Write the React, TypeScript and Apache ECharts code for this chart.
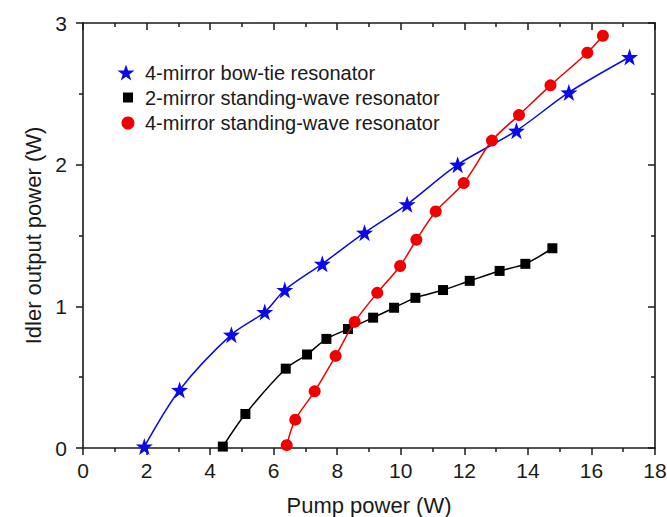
import React, { useEffect, useRef } from "react";
import * as echarts from "echarts";

const seriesNames = [
  "4-mirror bow-tie resonator",
  "2-mirror standing-wave resonator",
  "4-mirror standing-wave resonator",
];

const bowTieX = [1.93, 3.04, 4.67, 5.72, 6.35, 7.53, 8.86, 10.2, 11.79, 13.64, 15.29, 17.2];
const bowTieY = [0.01, 0.41, 0.8, 0.96, 1.115, 1.3, 1.52, 1.72, 2.0, 2.24, 2.51, 2.76];

const twoMirrorX = [4.4, 5.11, 6.38, 7.05, 7.66, 8.34, 9.13, 9.79, 10.46, 11.33, 12.17, 13.11, 13.92, 14.77];
const twoMirrorY = [0.01, 0.24, 0.56, 0.66, 0.77, 0.84, 0.92, 0.99, 1.06, 1.115, 1.18, 1.25, 1.3, 1.41];

const fourMirrorX = [6.41, 6.68, 7.29, 7.95, 8.55, 9.26, 9.98, 10.49, 11.1, 11.98, 12.87, 13.72, 14.71, 15.87, 16.36];
const fourMirrorY = [0.02, 0.2, 0.4, 0.65, 0.89, 1.095, 1.285, 1.47, 1.67, 1.87, 2.17, 2.35, 2.56, 2.79, 2.91];

const xTicks = { min: 0, max: 18, interval: 2 };
const yTicks = { min: 0, max: 3, interval: 1 };

const STAR =
  "path://M50,0 L61.8,35.1 L98.9,35.5 L69.1,57.6 L80.2,93 L50,71.5 L19.8,93 L30.9,57.6 L1.1,35.5 L38.2,35.1 Z";

const FONT = "Liberation Sans, Arial, sans-serif";
const BLUE = "#0a0ae8";
const RED = "#f20000";
const INK = "#1a1a1a";

export default function App() {
  const ref = useRef<HTMLDivElement>(null);
  useEffect(() => {
    document.body.style.margin = "0";
    const chart = echarts.init(ref.current!, null, { renderer: "svg" });
    const zip = (xs: number[], ys: number[]) => xs.map((x, i) => [x, ys[i]]);
    const axisCommon = {
      axisLine: { show: true, onZero: false, lineStyle: { color: INK, width: 1.6 } },
      splitLine: { show: false },
    };
    const tickStyle = { color: INK, width: 1.5 };
    const legendItem = (
      name: string,
      icon: string,
      color: string,
      size: number,
      left: number,
      top: number,
      padLeft: number
    ) => ({
      orient: "vertical",
      left,
      top,
      padding: 0,
      itemWidth: size,
      itemHeight: size,
      textStyle: { fontSize: 20, color: INK, fontFamily: FONT, padding: [0, 0, 0, padLeft] },
      data: [{ name, icon, itemStyle: { color } }],
    });
    chart.setOption({
      animation: false,
      backgroundColor: "#fff",
      textStyle: { fontFamily: FONT },
      grid: {
        left: 83,
        right: 12,
        top: 23,
        bottom: 69,
        containLabel: false,
        outerBoundsMode: "none",
      },
      legend: [
        legendItem(seriesNames[0], STAR, BLUE, 17, 117.5, 62.5, 5.5),
        legendItem(seriesNames[1], "rect", "#000", 10, 123, 87.5, 7),
        legendItem(seriesNames[2], "circle", RED, 13, 121.5, 113, 5.5),
      ],
      xAxis: [
        {
          type: "value",
          position: "bottom",
          ...xTicks,
          ...axisCommon,
          name: "Pump power (W)",
          nameLocation: "middle",
          nameGap: 46,
          nameTextStyle: { fontSize: 22, color: INK, fontFamily: FONT },
          axisTick: { show: true, inside: false, length: 7, lineStyle: tickStyle },
          minorTick: { show: true, splitNumber: 2, length: 4, lineStyle: tickStyle },
          axisLabel: { fontSize: 21, color: INK, margin: 12, fontFamily: FONT },
        },
        {
          type: "value",
          position: "top",
          ...xTicks,
          ...axisCommon,
          axisTick: { show: true, inside: true, length: 7, lineStyle: tickStyle },
          minorTick: { show: true, splitNumber: 2, length: 4, lineStyle: tickStyle },
          axisLabel: { show: false },
        },
      ],
      yAxis: [
        {
          type: "value",
          position: "left",
          ...yTicks,
          ...axisCommon,
          name: "Idler output power (W)",
          nameLocation: "middle",
          nameGap: 36,
          nameTextStyle: { fontSize: 22, color: INK, fontFamily: FONT },
          axisTick: { show: true, inside: false, length: 7, lineStyle: tickStyle },
          minorTick: { show: true, splitNumber: 2, length: 4, lineStyle: tickStyle },
          axisLabel: { fontSize: 21, color: INK, margin: 16, fontFamily: FONT },
        },
        {
          type: "value",
          position: "right",
          ...yTicks,
          ...axisCommon,
          axisTick: { show: true, inside: true, length: 7, lineStyle: tickStyle },
          minorTick: { show: true, splitNumber: 2, length: 4, lineStyle: tickStyle },
          axisLabel: { show: false },
        },
      ],
      series: [
        {
          name: seriesNames[0],
          type: "line",
          data: zip(bowTieX, bowTieY),
          smooth: 0.3,
          symbol: STAR,
          symbolSize: 17,
          lineStyle: { color: BLUE, width: 1.5 },
          itemStyle: { color: BLUE },
          z: 3,
        },
        {
          name: seriesNames[1],
          type: "line",
          data: zip(twoMirrorX, twoMirrorY),
          smooth: 0.3,
          symbol: "rect",
          symbolSize: 10,
          lineStyle: { color: "#000", width: 1.5 },
          itemStyle: { color: "#000" },
          z: 2,
        },
        {
          name: seriesNames[2],
          type: "line",
          data: zip(fourMirrorX, fourMirrorY),
          smooth: 0.3,
          symbol: "circle",
          symbolSize: 12,
          lineStyle: { color: RED, width: 1.5 },
          itemStyle: { color: RED },
          z: 4,
        },
      ],
    });
    return () => chart.dispose();
  }, []);
  return <div ref={ref} style={{ width: 667, height: 517, position: "absolute", left: 0, top: 0 }} />;
}
